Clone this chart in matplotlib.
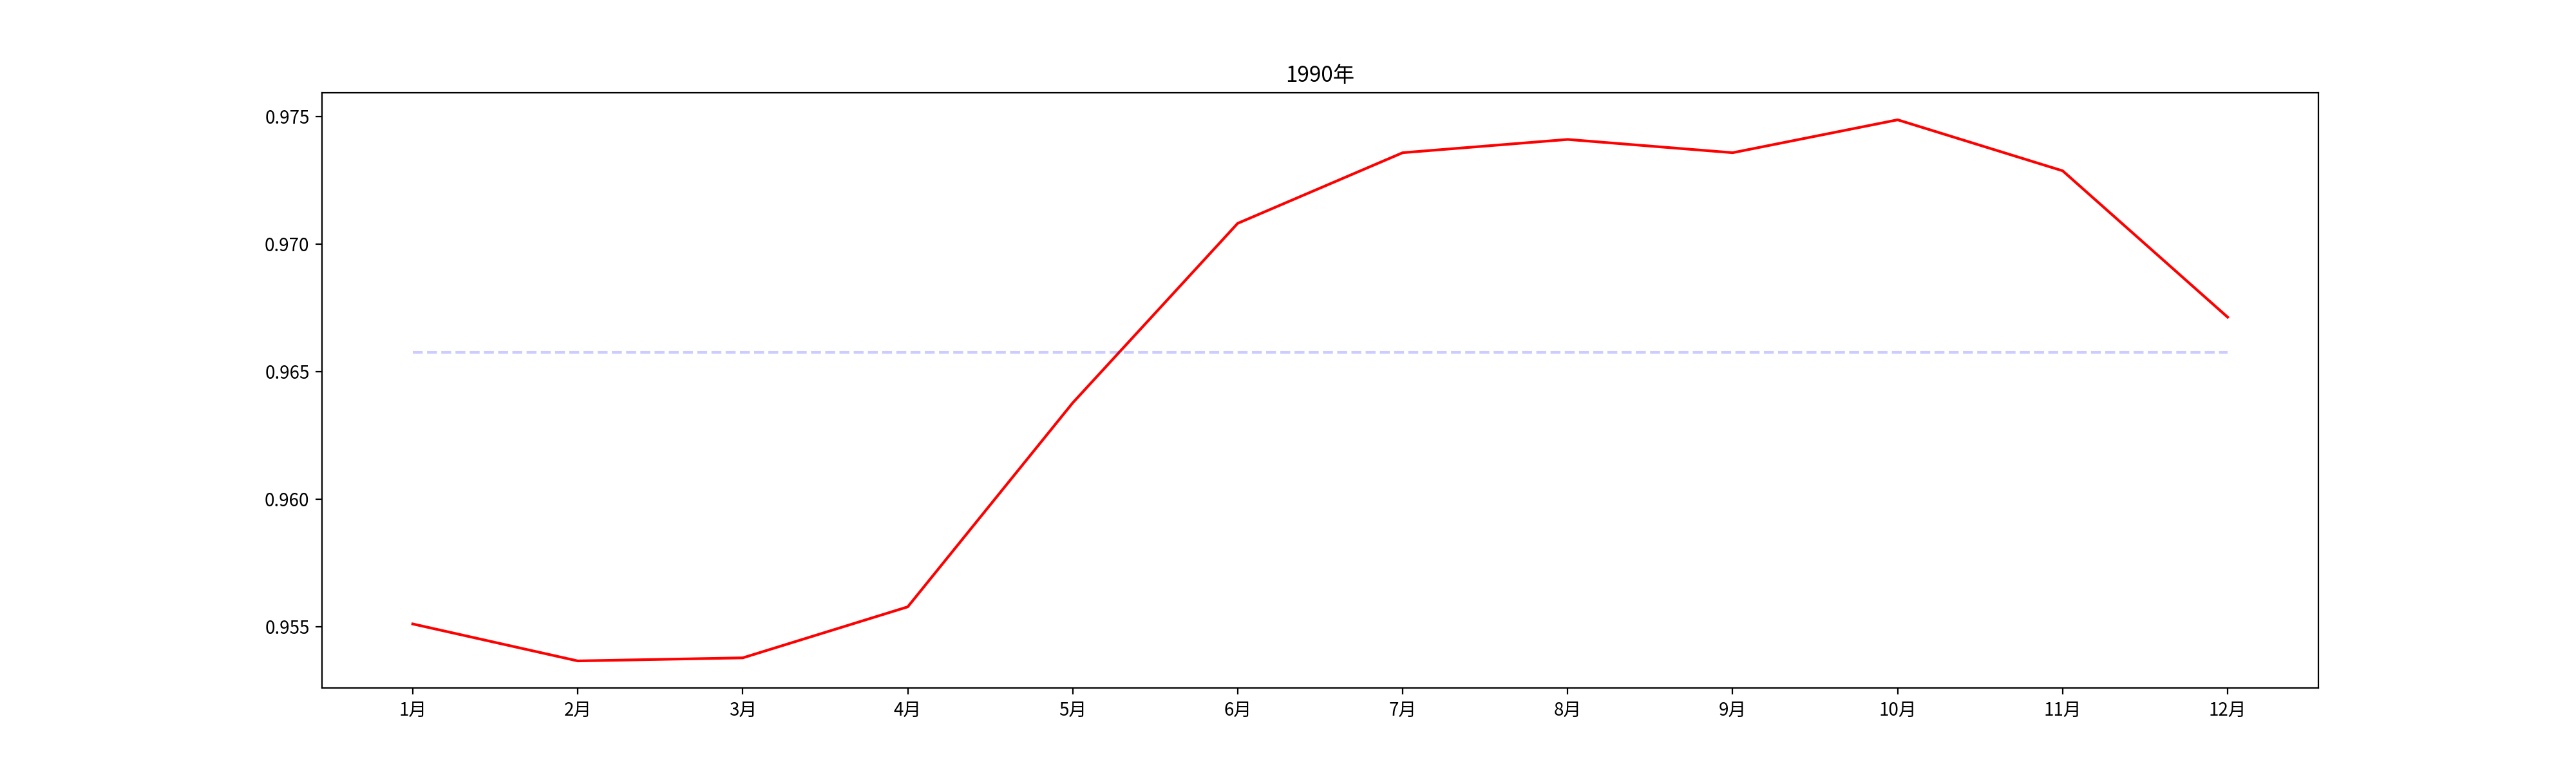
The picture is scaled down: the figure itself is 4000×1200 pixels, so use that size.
import matplotlib
matplotlib.use("Agg")
import matplotlib.pyplot as plt
import numpy as np

plt.rcParams['font.family'] = ['Noto Sans CJK SC', 'DejaVu Sans']
plt.rcParams['axes.unicode_minus'] = False

months = [f"{i}月" for i in range(1, 13)]
values = [0.9551, 0.95365, 0.95377, 0.95577, 0.96377, 0.97081,
          0.97358, 0.9741, 0.97358, 0.97487, 0.97287, 0.96713]
title = "1990年"

fig, ax = plt.subplots(figsize=(20, 6), dpi=200)
x = np.arange(len(months))
ax.plot(x, values, color='red')
mean = np.mean(values)
ax.plot(x, [mean] * len(x), color='blue', alpha=0.2, linestyle='--')
ax.set_xticks(x)
ax.set_xticklabels(months)
ax.set_title(title)
fig.savefig("out.png")
